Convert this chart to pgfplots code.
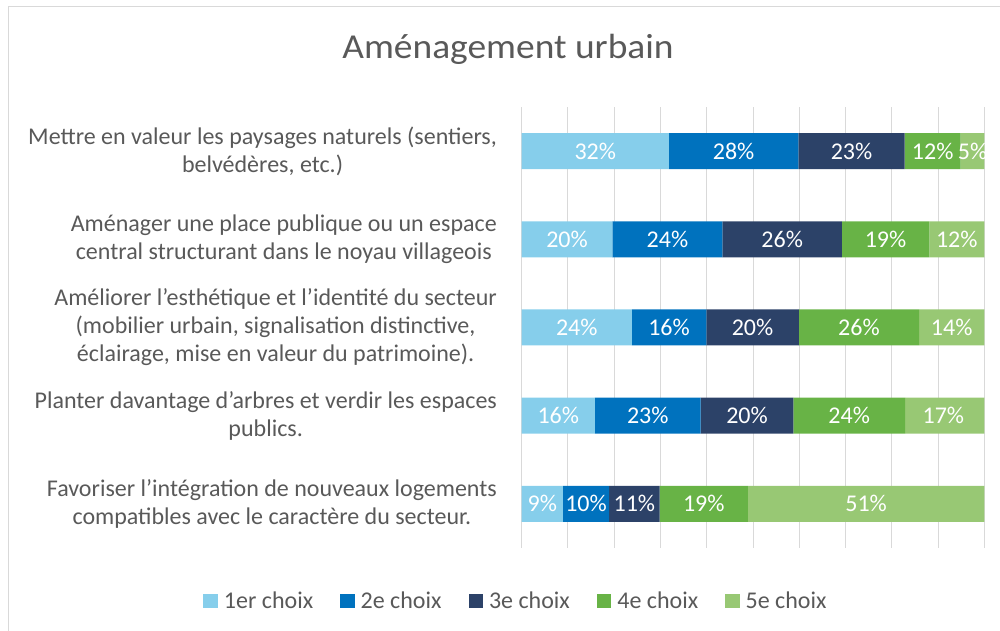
\documentclass[border=0pt]{standalone}
\usepackage{pgfplots}
\pgfplotsset{compat=1.18}
\usepackage{fontspec}
\setmainfont{Carlito}
\newfontfamily\titlefont[FakeStretch=1.07]{Carlito}
\definecolor{c1}{RGB}{134,206,235}
\definecolor{c2}{RGB}{0,114,190}
\definecolor{c3}{RGB}{44,66,104}
\definecolor{c4}{RGB}{104,179,70}
\definecolor{c5}{RGB}{152,200,116}
\definecolor{labelgray}{RGB}{89,89,89}
\definecolor{gridgray}{RGB}{217,217,217}
\definecolor{framegray}{RGB}{217,217,217}
\begin{document}
\begin{tikzpicture}
\path[use as bounding box] (0,0) rectangle (1000pt,631pt);
\draw[framegray, line width=1pt] (8pt,-2pt) -- (8pt,624pt) -- (1002pt,624pt);
\node[anchor=base, font=\titlefont\fontsize{35}{40}\selectfont, text=labelgray, inner sep=0pt] at (508pt,572.7pt) {Aménagement urbain};
\begin{axis}[
  at={(521.7pt,83pt)}, anchor=south west, scale only axis,
  width=462.6pt, height=441pt,
  xbar stacked, bar width=36pt,
  xmin=0, xmax=100, ymin=-0.5, ymax=4.5,
  xtick={0,10,...,100}, xticklabels={},
  xmajorgrids, grid style={color=gridgray, line width=1pt},
  major tick length=0pt,
  axis line style={draw=none},
  ytick={0,1,2,3,4},
  yticklabels={
    {Favoriser l’intégration de nouveaux logements\\compatibles avec le caractère du secteur.},
    {Planter davantage d’arbres et verdir les espaces\\publics.},
    {Améliorer l’esthétique et l’identité du secteur\\(mobilier urbain, signalisation distinctive,\\éclairage, mise en valeur du patrimoine).},
    {Aménager une place publique ou un espace\\central structurant dans le noyau villageois},
    {Mettre en valeur les paysages naturels (sentiers,\\belvédères, etc.)}
  },
  yticklabel style={align=center, font=\fontsize{24}{28}\selectfont, text=labelgray, inner sep=0pt, xshift=-24.7pt},
  legend columns=5,
  legend image code/.code={\fill[#1] (0pt,-7pt) rectangle (14.5pt,7pt);},
  legend style={at={(axis description cs:-0.0145,-0.1202)}, anchor=center, draw=none,
    font=\fontsize{24}{28}\selectfont, text=labelgray,
    nodes={inner sep=0pt},
    /tikz/every odd column/.append style={column sep=6pt},
    /tikz/every even column/.append style={column sep=27pt}},
]
\addplot[draw=none, fill=c1] coordinates {(8.9,0) (15.8,1) (23.8,2) (19.6,3) (31.8,4)};
\addplot[draw=none, fill=c2] coordinates {(10.0,0) (22.9,1) (16.1,2) (23.8,3) (28.0,4)};
\addplot[draw=none, fill=c3] coordinates {(10.9,0) (20.0,1) (20.0,2) (25.8,3) (23.0,4)};
\addplot[draw=none, fill=c4] coordinates {(19.1,0) (24.2,1) (26.0,2) (18.9,3) (12.1,4)};
\addplot[draw=none, fill=c5] coordinates {(51.1,0) (17.1,1) (14.1,2) (11.9,3) (5.1,4)};
\legend{1er choix, 2e choix, 3e choix, 4e choix, 5e choix}
\end{axis}
\begin{axis}[
  at={(521.7pt,83pt)}, anchor=south west, scale only axis,
  width=462.6pt, height=441pt,
  xmin=0, xmax=100, ymin=-0.5, ymax=4.5,
  hide axis, clip=false,
]
\addplot[draw=none, mark=none, nodes near coords, point meta=explicit symbolic,
  every node near coord/.style={anchor=center, inner sep=0pt, text=white, font=\fontsize{24}{28}\selectfont}]
  coordinates {
  (15.9,4) [32\%] (45.8,4) [28\%] (71.3,4) [23\%] (88.85,4) [12\%] (97.45,4) [5\%]
  (9.8,3) [20\%] (31.5,3) [24\%] (56.3,3) [26\%] (78.65,3) [19\%] (94.05,3) [12\%]
  (11.9,2) [24\%] (31.85,2) [16\%] (49.9,2) [20\%] (72.9,2) [26\%] (92.95,2) [14\%]
  (7.9,1) [16\%] (27.25,1) [23\%] (48.7,1) [20\%] (70.8,1) [24\%] (91.15,1) [17\%]
  (4.45,0) [9\%] (13.9,0) [10\%] (24.35,0) [11\%] (39.35,0) [19\%] (74.45,0) [51\%]
  };
\end{axis}
\end{tikzpicture}
\end{document}
